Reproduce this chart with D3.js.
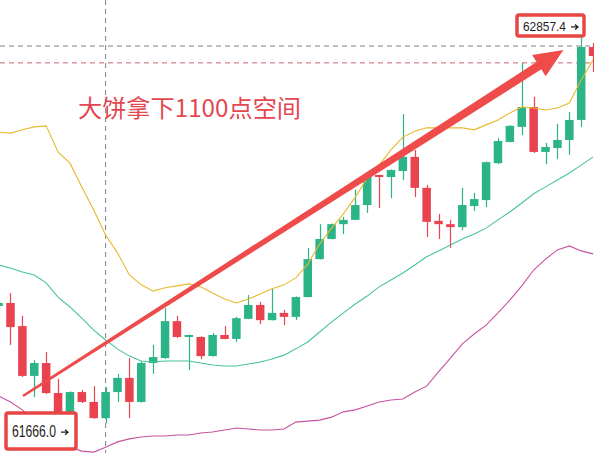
<!DOCTYPE html>
<html>
<head>
<meta charset="utf-8">
<script src="https://cdn.jsdelivr.net/npm/d3@7"></script>
<style>
  html, body { margin: 0; padding: 0; background: #ffffff; }
  svg { display: block; }
</style>
</head>
<body>
<svg id="chart"></svg>
<script>
const W = 594, H = 453;

// ── Candles (first one is cut off at the left edge) ─────────────────────────
const opens  = [62042, 62051, 61981, 61830, 61869, 61778, 61718, 61781, 61751, 61702,
                61781, 61824, 61751, 61869, 61884, 61996, 61948, 61948, 61890, 61954,
                61942, 62003, 62045, 61999, 62021, 62009, 62069, 62184, 62245, 62290,
                62303, 62348, 62439, 62433, 62451, 62494, 62400, 62300, 62290, 62281,
                62345, 62363, 62475, 62539, 62585, 62645, 62509, 62521, 62545, 62606,
                62827];
const highs  = [62060, 62081, 62012, 61878, 61902, 61821, 61783, 61787, 61799, 61796,
                61836, 61884, 61875, 61924, 62036, 62012, 61955, 61950, 61960, 61981,
                62009, 62075, 62054, 62096, 62030, 62071, 62218, 62290, 62292, 62312,
                62394, 62448, 62440, 62456, 62624, 62515, 62409, 62321, 62303, 62400,
                62385, 62480, 62551, 62590, 62779, 62676, 62536, 62594, 62630, 62857.4,
                62839];
const lows   = [62030, 61924, 61827, 61766, 61775, 61684, 61666, 61748, 61700, 61687,
                61751, 61702, 61749, 61836, 61882, 61945, 61848, 61881, 61889, 61941,
                61933, 62002, 61987, 61998, 61984, 61999, 62068, 62183, 62244, 62260,
                62302, 62324, 62339, 62369, 62424, 62372, 62251, 62245, 62218, 62272,
                62330, 62342, 62472, 62538, 62560, 62506, 62472, 62488, 62500, 62585,
                62751];
const closes = [62051, 61978, 61830, 61869, 61778, 61711, 61781, 61751, 61702, 61781,
                61824, 61751, 61869, 61887, 61996, 61948, 61954, 61890, 61954, 61942,
                62005, 62045, 61999, 62021, 62009, 62069, 62184, 62245, 62290, 62303,
                62348, 62433, 62433, 62454, 62494, 62400, 62297, 62290, 62281, 62348,
                62366, 62478, 62542, 62588, 62645, 62509, 62524, 62545, 62606, 62827,
                62800];

// ── Indicator lines ─────────────────────────────────────────────────────────
const yellowLine = [62569, 62566, 62576, 62585, 62588, 62509, 62475, 62403, 62333, 62257,
                    62203, 62136, 62106, 62087, 62097, 62103, 62109, 62100, 62081, 62063,
                    62051, 62063, 62078, 62094, 62106, 62127, 62169, 62230, 62278, 62321,
                    62372, 62430, 62469, 62515, 62554, 62572, 62582, 62582, 62582, 62582,
                    62576, 62591, 62606, 62627, 62645, 62642, 62636, 62642, 62657, 62727,
                    62788];
const tealLine   = [62166, 62157, 62145, 62136, 62112, 62069, 62039, 62005, 61969, 61939,
                    61912, 61890, 61875, 61872, 61875, 61875, 61875, 61869, 61863, 61860,
                    61860, 61866, 61872, 61881, 61893, 61912, 61933, 61963, 61993, 62021,
                    62048, 62072, 62100, 62121, 62142, 62166, 62191, 62209, 62227, 62245,
                    62260, 62278, 62303, 62327, 62354, 62382, 62403, 62424, 62445, 62469,
                    62494];
const pinkLine   = [61769, 61751, 61727, 61696, 61663, 61636, 61614, 61602, 61599, 61614,
                    61630, 61639, 61645, 61648, 61648, 61651, 61651, 61657, 61660, 61666,
                    61672, 61669, 61666, 61666, 61669, 61690, 61693, 61696, 61705, 61721,
                    61727, 61739, 61751, 61757, 61760, 61781, 61799, 61842, 61884, 61927,
                    61957, 61984, 62021, 62060, 62103, 62151, 62184, 62212, 62224, 62209,
                    62200];

// ── Reference levels and annotations ────────────────────────────────────────
const crosshairIndex = 9;
const crosshairPrice = 62830;
const highLinePrice  = 62779;
const highLabel = '62857.4';
const lowLabel  = '61666.0';
const noteText  = '大饼拿下1100点空间';
const arrowFrom = [2.05, 61769];   // [candle index, price]
const arrowTo   = [47.5, 62818];

const GREEN = '#2bb487', RED = '#e9434f';

const x = d3.scaleLinear().domain([0, opens.length - 1]).range([-1.4, 593.1]);
const y = d3.scaleLinear().domain([61666, 62857.4]).range([430, 37]);

const svg = d3.select('#chart')
  .attr('width', W).attr('height', H)
  .attr('viewBox', `0 0 ${W} ${H}`)
  .style('font-family', '"Liberation Sans", Arial, sans-serif');

svg.append('rect').attr('width', W).attr('height', H).attr('fill', '#ffffff');

// ── Crosshair + high price line ─────────────────────────────────────────────
svg.append('line')
  .attr('x1', x(crosshairIndex)).attr('x2', x(crosshairIndex))
  .attr('y1', 0).attr('y2', H)
  .attr('stroke', '#7d7d86').attr('stroke-width', 1)
  .attr('stroke-dasharray', '5,4');
svg.append('line')
  .attr('x1', 0).attr('x2', W)
  .attr('y1', y(crosshairPrice)).attr('y2', y(crosshairPrice))
  .attr('stroke', '#8a7d86').attr('stroke-width', 1)
  .attr('stroke-dasharray', '5,4');
svg.append('line')
  .attr('x1', 0).attr('x2', W)
  .attr('y1', y(highLinePrice)).attr('y2', y(highLinePrice))
  .attr('stroke', '#c9636e').attr('stroke-width', 1)
  .attr('stroke-dasharray', '5,4');

// ── Candles ─────────────────────────────────────────────────────────────────
const candles = opens.map((o, i) => ({ i, o, h: highs[i], l: lows[i], c: closes[i] }));
const bodyW = 8.5;

const cg = svg.append('g').attr('class', 'candles')
  .selectAll('g').data(candles).join('g')
  .attr('fill',   d => d.c >= d.o ? GREEN : RED)
  .attr('stroke', d => d.c >= d.o ? GREEN : RED);

cg.append('line')
  .attr('x1', d => Math.round(x(d.i)) + 0.5)
  .attr('x2', d => Math.round(x(d.i)) + 0.5)
  .attr('y1', d => y(d.h))
  .attr('y2', d => y(d.l))
  .attr('stroke-width', 1.2);

cg.append('rect')
  .attr('x', d => x(d.i) - bodyW / 2)
  .attr('y', d => y(Math.max(d.o, d.c)))
  .attr('width', bodyW)
  .attr('height', d => Math.max(1.5, Math.abs(y(d.o) - y(d.c))))
  .attr('stroke', 'none');

// ── Indicator lines ─────────────────────────────────────────────────────────
const lineGen = d3.line().x((d, i) => x(i)).y(d => y(d));
[[pinkLine, '#c7529f'], [tealLine, '#47c2a2'], [yellowLine, '#e9b92e']].forEach(([data, color]) => {
  svg.append('path')
    .attr('d', lineGen(data))
    .attr('fill', 'none')
    .attr('stroke', color)
    .attr('stroke-width', 1.1);
});

// ── Tapered arrow ───────────────────────────────────────────────────────────
(function drawArrow() {
  const x0 = x(arrowFrom[0]), y0 = y(arrowFrom[1]);
  const x1 = x(arrowTo[0]),   y1 = y(arrowTo[1]);
  const len = Math.hypot(x1 - x0, y1 - y0);
  const ux = (x1 - x0) / len, uy = (y1 - y0) / len;
  const nx = -uy, ny = ux;
  const headLen = 29, headHalf = 12.5;
  const bx = x1 - ux * headLen, by = y1 - uy * headLen;
  const tailHalf = 1.3, neckHalf = 4.4;
  const pts = [
    [x0 + nx * tailHalf, y0 + ny * tailHalf],
    [bx + nx * neckHalf, by + ny * neckHalf],
    [bx + nx * headHalf, by + ny * headHalf],
    [x1, y1],
    [bx - nx * headHalf, by - ny * headHalf],
    [bx - nx * neckHalf, by - ny * neckHalf],
    [x0 - nx * tailHalf, y0 - ny * tailHalf]
  ];
  svg.append('path')
    .attr('d', d3.line()(pts) + 'Z')
    .attr('fill', '#ef4b4b')
    .attr('stroke', 'none');
})();

// ── Note text ───────────────────────────────────────────────────────────────
svg.append('text')
  .attr('x', 78).attr('y', 117)
  .attr('font-family', '"Noto Sans CJK SC", "Noto Sans", sans-serif')
  .attr('font-size', 24)
  .attr('fill', '#e4474f')
  .attr('textLength', 223)
  .attr('lengthAdjust', 'spacingAndGlyphs')
  .text(noteText);

// ── Price labels ────────────────────────────────────────────────────────────
function priceBox(bx, by, bw, bh, label, tx, ty, fontSize, textLen) {
  const g = svg.append('g');
  g.append('rect')
    .attr('x', bx).attr('y', by).attr('width', bw).attr('height', bh)
    .attr('rx', 2)
    .attr('fill', '#ffffff')
    .attr('stroke', '#e84545')
    .attr('stroke-width', 3.5);
  g.append('text')
    .attr('x', tx).attr('y', ty)
    .attr('font-size', fontSize)
    .attr('fill', '#222222')
    .attr('textLength', textLen)
    .attr('lengthAdjust', 'spacingAndGlyphs')
    .text(label);
  // small right arrow after the number
  const ax = tx + textLen + 5, ay = ty - fontSize * 0.3;
  g.append('path')
    .attr('d', `M${ax},${ay}H${ax + 7}M${ax + 4},${ay - 2.5}L${ax + 7},${ay}L${ax + 4},${ay + 2.5}`)
    .attr('fill', 'none')
    .attr('stroke', '#222222')
    .attr('stroke-width', 1.3);
}
priceBox(517, 15, 67, 21, highLabel, 523, 31, 13.5, 43);
priceBox(6, 413, 70, 36, lowLabel, 12, 437, 16, 44);
</script>
</body>
</html>
